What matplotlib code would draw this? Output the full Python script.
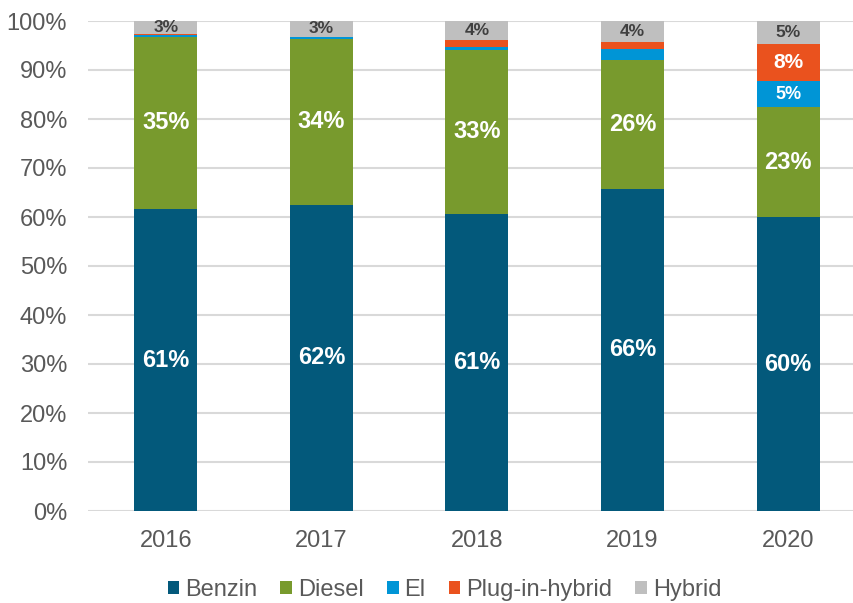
import numpy as np
import matplotlib.pyplot as plt
plt.switch_backend('agg')

plt.rcParams['font.family'] = ['Liberation Sans', 'DejaVu Sans']

years = ["2016", "2017", "2018", "2019", "2020"]
benzin = [61.6, 62.5, 60.6, 65.8, 59.9]
diesel = [35.2, 33.8, 33.5, 26.2, 22.6]
el = [0.3, 0.35, 0.5, 2.2, 5.2]
phev = [0.2, 0.1, 1.55, 1.55, 7.7]
hybrid = [2.7, 3.25, 3.85, 4.25, 4.6]

benzin_lbl = ["61%", "62%", "61%", "66%", "60%"]
diesel_lbl = ["35%", "34%", "33%", "26%", "23%"]
el_lbl = ["", "", "", "", "5%"]
phev_lbl = ["", "", "", "", "8%"]
hybrid_lbl = ["3%", "3%", "4%", "4%", "5%"]

names = ["Benzin", "Diesel", "El", "Plug-in-hybrid", "Hybrid"]
colors = ["#03597B", "#789A2D", "#0095D6", "#EA521E", "#BFBFBF"]

series = [benzin, diesel, el, phev, hybrid]
labels = [benzin_lbl, diesel_lbl, el_lbl, phev_lbl, hybrid_lbl]
lbl_colors = ["white", "white", "white", "white", "#404040"]
lbl_sizes = [17, 17, 13, 15, 12.5]

fig = plt.figure(figsize=(8.54, 6.03), dpi=100)
ax = fig.add_axes([88 / 854, 92 / 603, 1 - 88 / 854, 490 / 603])

x = np.arange(len(years))
bottom = np.zeros(len(years))
for vals, name, col, lbls, lc, ls in zip(series, names, colors, labels, lbl_colors, lbl_sizes):
    vals = np.array(vals)
    ax.bar(x, vals, 0.405, bottom=bottom, color=col, label=name, zorder=2)
    for i in range(len(years)):
        if lbls[i]:
            ax.text(x[i], bottom[i] + vals[i] / 2, lbls[i], ha="center", va="center",
                    color=lc, fontsize=ls, fontweight="bold", zorder=3)
    bottom = bottom + vals

ax.set_xlim(-0.5, 4.423)
ax.set_ylim(0, 100)
ax.set_yticks(np.arange(0, 101, 10))
ax.set_yticklabels([f"{v}%" for v in range(0, 101, 10)])
ax.set_xticks(x)
ax.set_xticklabels(years)
ax.tick_params(axis="both", length=0, labelsize=17, colors="#595959")
ax.tick_params(axis="y", pad=15)
ax.tick_params(axis="x", pad=14)
ax.grid(axis="y", color="#D9D9D9", linewidth=1.5, zorder=0)
ax.set_axisbelow(True)
for s in ax.spines.values():
    s.set_visible(False)

fig.legend(loc="center", bbox_to_anchor=(444.5 / 854, 13 / 603), ncol=5, frameon=False,
           fontsize=17, handlelength=0.5, handleheight=0.5, handletextpad=0.25,
           columnspacing=0.97, labelcolor="#595959")

plt.savefig("out.png", format="png")
